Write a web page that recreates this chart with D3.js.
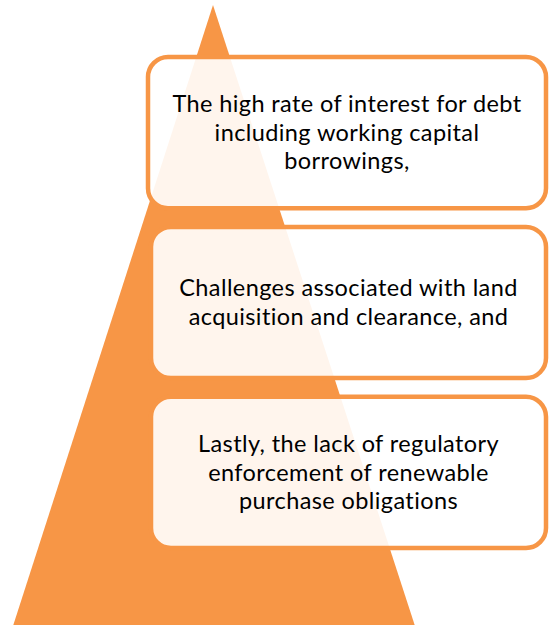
<!DOCTYPE html>
<html>
<head>
<meta charset="utf-8">
<script src="https://cdn.jsdelivr.net/npm/d3@7"></script>
<style>
  html, body { margin: 0; padding: 0; background: #fff; }
  svg { display: block; }
</style>
</head>
<body>
<svg id="chart"></svg>
<script>
// data
const levels = [0, 1, 2];
const labels = [
    ["The high rate of interest for debt", "including working capital", "borrowings,"],
    ["Challenges associated with land", "acquisition and clearance, and"],
    ["Lastly, the lack of regulatory", "enforcement of renewable", "purchase obligations"]
];

const width = 555,
    height = 625,
    orange = "#F79646";

const svg = d3.select("#chart")
    .attr("width", width)
    .attr("height", height);

// pyramid: apex at top, base at bottom
const px = d3.scaleLinear().domain([-1, 1]).range([13, 415]);
const py = d3.scaleLinear().domain([0, 1]).range([5, 626]);
const apexX = 213;

svg.append("path")
    .datum([[0, 0], [-1, 1], [1, 1]])
    .attr("fill", orange)
    .attr("d", d3.line()
        .x(d => d[0] === 0 ? apexX : px(d[0]))
        .y(d => py(d[1])));

// boxes
const y = d3.scaleBand()
    .domain(levels)
    .range([57, 548])
    .paddingInner(0.11)
    .paddingOuter(0);

const boxX = d3.scaleOrdinal().domain(levels).range([148, 151, 151]);
const boxRight = 546;
const lineH = 28.5;

const g = svg.selectAll("g.level")
    .data(levels)
    .join("g")
    .attr("class", "level");

g.append("rect")
    .attr("x", d => boxX(d))
    .attr("y", d => y(d))
    .attr("width", d => boxRight - boxX(d))
    .attr("height", y.bandwidth())
    .attr("rx", 20)
    .attr("ry", 20)
    .attr("fill", "#fff")
    .attr("fill-opacity", 0.9)
    .attr("stroke", orange)
    .attr("stroke-width", 4.5);

g.append("text")
    .attr("text-anchor", "middle")
    .attr("font-family", "Lato, 'Open Sans', sans-serif")
    .attr("font-size", 23.5)
    .attr("letter-spacing", 0.4)
    .attr("fill", "#000")
    .each(function (d) {
        const lines = labels[d];
        const cx = (boxX(d) + boxRight) / 2;
        const cy = y(d) + y.bandwidth() / 2;
        const top = cy - (lines.length - 1) * lineH / 2;
        d3.select(this).selectAll("tspan")
            .data(lines)
            .join("tspan")
            .attr("x", cx)
            .attr("y", (t, i) => top + i * lineH)
            .attr("dy", "0.35em")
            .text(t => t);
    });
</script>
</body>
</html>
